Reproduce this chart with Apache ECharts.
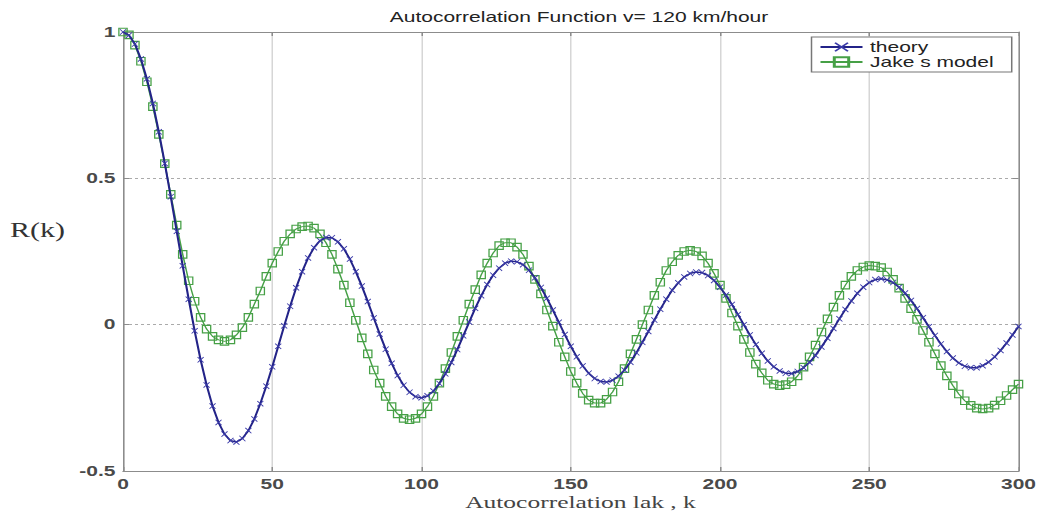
<!DOCTYPE html>
<html><head><meta charset="utf-8">
<script src="https://cdn.jsdelivr.net/npm/echarts@6/dist/echarts.min.js"></script>
<style>
html,body{margin:0;padding:0;background:#fff;overflow:hidden;}
#chart{width:692px;height:512px;transform:scaleX(1.5);transform-origin:0 0;}
</style></head><body><div id="chart"></div>
<script>
const titleText = 'Autocorrelation Function v= 120 km/hour';
const xName = 'Autocorrelation lak , k';
const yName = 'R(k)';
const seriesNames = ['theory', 'Jake s model'];
const xTicks = [0, 50, 100, 150, 200, 250, 300];
const yTicks = [-0.5, 0, 0.5, 1];

const lags = [0,2,4,6,8,10,12,14,16,18,20,22,24,26,28,30,32,34,36,38,40,42,44,46,48,50,52,54,56,58,60,62,64,66,68,70,72,74,76,78,80,82,84,86,88,90,92,94,96,98,100,102,104,106,108,110,112,114,116,118,120,122,124,126,128,130,132,134,136,138,140,142,144,146,148,150,152,154,156,158,160,162,164,166,168,170,172,174,176,178,180,182,184,186,188,190,192,194,196,198,200,202,204,206,208,210,212,214,216,218,220,222,224,226,228,230,232,234,236,238,240,242,244,246,248,250,252,254,256,258,260,262,264,266,268,270,272,274,276,278,280,282,284,286,288,290,292,294,296,298,300];

const theory = [1.000,0.989,0.959,0.908,0.840,0.756,0.659,0.551,0.437,0.319,0.201,0.087,-0.021,-0.120,-0.206,-0.278,-0.334,-0.374,-0.396,-0.401,-0.389,-0.362,-0.322,-0.270,-0.210,-0.144,-0.074,-0.004,0.063,0.126,0.181,0.228,0.263,0.287,0.298,0.297,0.283,0.259,0.224,0.181,0.132,0.079,0.023,-0.032,-0.084,-0.132,-0.174,-0.207,-0.231,-0.246,-0.250,-0.243,-0.227,-0.201,-0.168,-0.129,-0.085,-0.038,0.009,0.056,0.099,0.137,0.169,0.193,0.210,0.217,0.215,0.205,0.186,0.160,0.127,0.090,0.050,0.008,-0.034,-0.074,-0.110,-0.141,-0.166,-0.184,-0.194,-0.196,-0.190,-0.176,-0.155,-0.128,-0.096,-0.060,-0.023,0.016,0.053,0.087,0.118,0.143,0.163,0.175,0.180,0.178,0.168,0.151,0.128,0.101,0.069,0.035,0.000,-0.035,-0.068,-0.098,-0.124,-0.144,-0.158,-0.166,-0.167,-0.160,-0.147,-0.129,-0.105,-0.076,-0.046,-0.013,0.020,0.052,0.081,0.107,0.128,0.144,0.154,0.157,0.153,0.144,0.128,0.108,0.083,0.055,0.024,-0.007,-0.037,-0.066,-0.092,-0.114,-0.131,-0.142,-0.147,-0.147,-0.140,-0.128,-0.110,-0.088,-0.063,-0.035,-0.006];

const jakes = [1.00,0.99,0.955,0.90,0.83,0.745,0.65,0.55,0.445,0.34,0.24,0.15,0.08,0.025,-0.015,-0.04,-0.052,-0.057,-0.052,-0.035,-0.01,0.025,0.07,0.115,0.165,0.21,0.25,0.285,0.31,0.327,0.335,0.337,0.33,0.31,0.28,0.24,0.19,0.135,0.075,0.015,-0.045,-0.10,-0.155,-0.20,-0.245,-0.28,-0.305,-0.32,-0.325,-0.32,-0.305,-0.28,-0.245,-0.20,-0.15,-0.095,-0.04,0.015,0.07,0.12,0.17,0.21,0.245,0.27,0.28,0.28,0.265,0.24,0.20,0.155,0.105,0.05,-0.005,-0.06,-0.11,-0.16,-0.20,-0.235,-0.258,-0.268,-0.268,-0.255,-0.23,-0.195,-0.15,-0.10,-0.05,0.0,0.05,0.10,0.145,0.185,0.215,0.237,0.25,0.254,0.25,0.235,0.21,0.175,0.135,0.09,0.04,-0.005,-0.05,-0.095,-0.135,-0.165,-0.19,-0.203,-0.208,-0.205,-0.195,-0.175,-0.145,-0.11,-0.07,-0.025,0.02,0.06,0.10,0.135,0.165,0.185,0.197,0.202,0.20,0.195,0.18,0.155,0.125,0.09,0.055,0.018,-0.02,-0.06,-0.10,-0.14,-0.175,-0.208,-0.237,-0.26,-0.276,-0.285,-0.288,-0.285,-0.275,-0.26,-0.242,-0.222,-0.203];

const chart = echarts.init(document.getElementById('chart'), null, {renderer: 'svg'});

const frame = {show: true, onZero: false, lineStyle: {color: '#8c8c8c', width: 1}};
const tick = {show: true, inside: true, length: 4, lineStyle: {color: '#8c8c8c'}};
const tickFont = {color: '#4a4a4a', fontFamily: 'Liberation Sans', fontSize: 14, fontWeight: 'bold'};
const crossPath = 'path://M0,1L1,0L5,4L9,0L10,1L6,5L10,9L9,10L5,6L1,10L0,9L4,5Z';

chart.setOption({
  animation: false,
  backgroundColor: '#fff',
  grid: {left: 82, right: 13, top: 32, bottom: 41, containLabel: false, outerBoundsMode: 'none'},
  legend: {
    data: seriesNames, orient: 'vertical', left: 541, top: 37,
    padding: [3, 12, 3, 5], itemWidth: 28, itemHeight: 12, itemGap: 1,
    borderColor: '#777', borderWidth: 1, backgroundColor: '#fff',
    textStyle: {fontFamily: 'Liberation Sans', fontSize: 14, color: '#222'}
  },
  xAxis: [
    {type: 'value', min: xTicks[0], max: xTicks[xTicks.length - 1], interval: xTicks[1] - xTicks[0], position: 'bottom',
     axisLine: frame, axisTick: tick, axisLabel: Object.assign({margin: 6}, tickFont),
     splitLine: {show: true, lineStyle: {color: '#d6d6d6', width: 1}}},
    {type: 'value', min: xTicks[0], max: xTicks[xTicks.length - 1], interval: xTicks[1] - xTicks[0], position: 'top',
     axisLine: frame, axisTick: tick, axisLabel: {show: false}, splitLine: {show: false}}
  ],
  yAxis: [
    {type: 'value', min: yTicks[0], max: yTicks[yTicks.length - 1], interval: yTicks[1] - yTicks[0], position: 'left',
     axisLine: frame, axisTick: tick, axisLabel: Object.assign({margin: 5}, tickFont),
     splitLine: {show: true, lineStyle: {color: '#aaaaaa', width: 1, type: [2, 2]}}},
    {type: 'value', min: yTicks[0], max: yTicks[yTicks.length - 1], interval: yTicks[1] - yTicks[0], position: 'right',
     axisLine: frame, axisTick: tick, axisLabel: {show: false}, splitLine: {show: false}}
  ],
  graphic: [
    {type: 'text', x: 386, y: 17, style: {text: titleText, font: '14px "Liberation Sans"', fill: '#222', textAlign: 'center', textVerticalAlign: 'middle'}},
    {type: 'text', x: 25, y: 230, style: {text: yName, font: '20px "Liberation Serif"', fill: '#333', textAlign: 'center', textVerticalAlign: 'middle'}},
    {type: 'text', x: 387, y: 503, style: {text: xName, font: '17px "Liberation Serif"', fill: '#444', textAlign: 'center', textVerticalAlign: 'middle'}}
  ],
  series: [
    {name: seriesNames[1], type: 'line', xAxisIndex: 0, yAxisIndex: 0,
     data: lags.map((k, i) => [k, jakes[i]]),
     symbol: 'rect', symbolSize: [5.5, 7.5], showAllSymbol: true,
     itemStyle: {color: 'rgba(255,255,255,0)', borderColor: '#46a046', borderWidth: 1},
     lineStyle: {color: '#46a046', width: 1}, emphasis: {disabled: true}, z: 2},
    {name: seriesNames[0], type: 'line', xAxisIndex: 0, yAxisIndex: 0,
     data: lags.map((k, i) => [k, theory[i]]),
     symbol: crossPath, symbolSize: [4.5, 6], showAllSymbol: true,
     itemStyle: {color: '#3a3aa8'},
     lineStyle: {color: '#232388', width: 1.4}, emphasis: {disabled: true}, z: 3}
  ]
});
</script></body></html>
